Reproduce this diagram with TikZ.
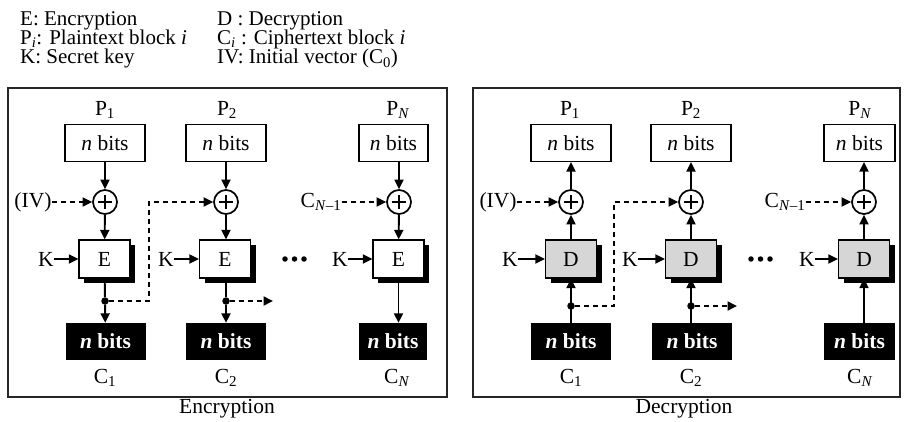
\documentclass[tikz,border=0pt]{standalone}
\usepackage{fontspec}
\setmainfont{Liberation Serif}
\usetikzlibrary{arrows.meta,shadows}
\begin{document}
\begin{tikzpicture}[x=1pt,y=-1pt,
  font=\fontsize{21.5}{25}\selectfont,
  ln/.style={line width=1.9pt},
  arr/.style={ln,-{Triangle[length=9.5pt,width=9pt]}},
  darr/.style={arr,dash pattern=on 5pt off 4pt},
  wbox/.style={draw,line width=1.2pt,fill=white,minimum width=80pt,minimum height=37pt,inner sep=0pt},
  bbox/.style={fill=black,text=white,font=\fontsize{21.5}{25}\selectfont\bfseries,minimum width=80pt,minimum height=37pt,inner sep=0pt},
  cbox/.style={draw,line width=1.2pt,fill=white,minimum width=51pt,minimum height=38pt,inner sep=0pt,drop shadow={shadow xshift=5pt,shadow yshift=-5pt,fill=black,opacity=1}},
  dbox/.style={cbox,fill=black!16},
  xor/.style={circle,draw,line width=1.7pt,fill=white,minimum size=24pt,inner sep=0pt,
    path picture={\draw[line width=1.6pt] (path picture bounding box.center) ++(-7pt,0) -- ++(14pt,0) (path picture bounding box.center) ++(0,-7pt) -- ++(0,14pt);}},
  dot/.style={circle,fill=black,minimum size=7.5pt,inner sep=0pt},
  sdot/.style={circle,fill=black,minimum size=5.5pt,inner sep=0pt},
  frame/.style={draw=black!85,line width=1.5pt},
  lbl/.style={inner sep=0pt},
  leg/.style={inner sep=0pt,anchor=base west,align=left,font=\fontsize{21}{19.2}\selectfont}
]
\useasboundingbox (0,0) rectangle (904,422);

% legend
\node[leg] (legL) at (20,64) {E: Encryption\\P\textsubscript{\textit{i}}: Plaintext block \textit{i}\\K: Secret key};
\node[leg] (legR) at (217,64) {D : Decryption\\C\textsubscript{\textit{i}} : Ciphertext block \textit{i}\\IV: Initial vector (C\textsubscript{0})};

% frames
\draw[frame] (8,88) rectangle (447,397);
\draw[frame] (473,88) rectangle (900,397);
\node[lbl] (capE) at (227,409) {Encryption};
\node[lbl] (capD) at (684,409) {Decryption};

% ---------- Encryption ----------
% column 1
\node[lbl] (eP1) at (105,110) {P\textsubscript{1}};
\node[wbox] (ep1) at (105,143) {\textit{n} bits};
\node[xor] (ex1) at (105,202) {};
\node[cbox] (eE1) at (104.5,259) {E};
\node[dot] (ed1) at (105,301) {};
\node[bbox] (ec1) at (105.5,341.5) {\textit{n} bits};
\node[lbl] (eC1) at (105,378) {C\textsubscript{1}};
\node[lbl] (eK1) at (46,259) {K};
\node[lbl] (eIV) at (33,202) {(IV)};
% column 2
\node[lbl] (eP2) at (227,110) {P\textsubscript{2}};
\node[wbox] (ep2) at (226,143) {\textit{n} bits};
\node[xor] (ex2) at (226,202) {};
\node[cbox] (eE2) at (225,259) {E};
\node[dot] (ed2) at (226,301) {};
\node[bbox] (ec2) at (226,341.5) {\textit{n} bits};
\node[lbl] (eC2) at (226,378) {C\textsubscript{2}};
\node[lbl] (eK2) at (166,259) {K};
\coordinate (eo2) at (273,301);
% column N
\node[lbl] (ePN) at (398,110) {P\textsubscript{\textit{N}}};
\node[wbox,minimum width=69pt] (epN) at (393.5,143) {\textit{n} bits};
\node[xor] (exN) at (399,202) {};
\node[cbox] (eEN) at (398.5,259) {E};
\node[bbox,minimum width=68pt] (ecN) at (393,341.5) {\textit{n} bits};
\node[lbl] (eCN) at (397,378) {C\textsubscript{\textit{N}}};
\node[lbl] (eKN) at (340,259) {K};
\node[lbl] (eCN1) at (321,202) {C\textsubscript{\textit{N}–1}};
\node[sdot] (edA) at (285,259) {};
\node[sdot] (edB) at (294.5,259) {};
\node[sdot] (edC) at (304,259) {};
\coordinate (eb1) at (149,202);

\draw[arr] (ep1) -- (ex1);
\draw[arr] (ex1) -- (eE1);
\draw[ln] (eE1) -- (ed1);
\draw[arr] (ed1) -- (ec1);
\draw[arr] (eK1) -- (eE1);
\draw[darr] (eIV) -- (ex1);
\draw[darr] (ed1) -| (eb1) -- (ex2);

\draw[arr] (ep2) -- (ex2);
\draw[arr] (ex2) -- (ex2 |- eE2.north);
\draw[ln] (ed2 |- eE2.south) -- (ed2);
\draw[arr] (ed2) -- (ec2);
\draw[arr] (eK2) -- (eE2);
\draw[darr] (ed2) -- (eo2);

\draw[arr] (exN |- epN.south) -- (exN);
\draw[arr] (exN) -- (eEN);
\draw[arr] (eEN) -- (eEN |- ecN.north);
\draw[arr] (eKN) -- (eEN);
\draw[darr] (eCN1) -- (exN);

% ---------- Decryption ----------
% column 1
\node[lbl] (dP1) at (570,110) {P\textsubscript{1}};
\node[wbox] (dp1) at (571,143) {\textit{n} bits};
\node[xor] (dx1) at (571,202) {};
\node[dbox] (dD1) at (571,259) {D};
\node[bbox] (dc1) at (571,341.5) {\textit{n} bits};
\node[lbl] (dC1) at (571,378) {C\textsubscript{1}};
\node[lbl] (dK1) at (510,259) {K};
\node[lbl] (dIV) at (498,202) {(IV)};
% column 2
\node[lbl] (dP2) at (691,110) {P\textsubscript{2}};
\node[wbox] (dp2) at (691,143) {\textit{n} bits};
\node[xor] (dx2) at (691,202) {};
\node[dbox] (dD2) at (691,259) {D};
\node[bbox] (dc2) at (692,341.5) {\textit{n} bits};
\node[lbl] (dC2) at (691,378) {C\textsubscript{2}};
\node[lbl] (dK2) at (630,259) {K};
\coordinate (do2) at (737,306);
% column N
\node[lbl] (dPN) at (860,110) {P\textsubscript{\textit{N}}};
\node[wbox,minimum width=71pt] (dpN) at (859.5,143) {\textit{n} bits};
\node[xor] (dxN) at (864,202) {};
\node[dbox] (dDN) at (864,259) {D};
\node[bbox,minimum width=71pt] (dcN) at (859.5,341.5) {\textit{n} bits};
\node[lbl] (dCN) at (860,378) {C\textsubscript{\textit{N}}};
\node[lbl] (dKN) at (807,259) {K};
\node[lbl] (dCN1) at (785,202) {C\textsubscript{\textit{N}–1}};
\node[sdot] (ddA) at (751,259) {};
\node[sdot] (ddB) at (760.5,259) {};
\node[sdot] (ddC) at (770,259) {};
\coordinate (db1) at (614,202);

\draw[arr] (dx1) -- (dp1);
\draw[arr] (dD1) -- (dx1);
\draw[arr] (dc1) -- (dD1);
\draw[arr] (dK1) -- (dD1);
\draw[darr] (dIV) -- (dx1);
\node[dot] (dd1) at (571,306) {};
\draw[darr] (dd1) -| (db1) -- (dx2);

\draw[arr] (dx2) -- (dp2);
\draw[arr] (dD2) -- (dx2);
\draw[arr] (dD2 |- dc2.north) -- (dD2);
\draw[arr] (dK2) -- (dD2);
\node[dot] (dd2) at (691,306) {};
\draw[darr] (dd2) -- (do2);

\draw[arr] (dxN) -- (dxN |- dpN.south);
\draw[arr] (dDN) -- (dxN);
\draw[arr] (dDN |- dcN.north) -- (dDN);
\draw[arr] (dKN) -- (dDN);
\draw[darr] (dCN1) -- (dxN);
\end{tikzpicture}
\end{document}
